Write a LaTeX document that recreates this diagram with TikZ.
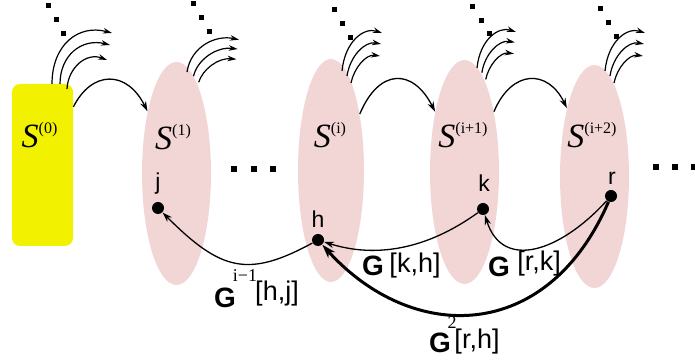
\documentclass[tikz,border=0pt]{standalone}
\usepackage{fontspec}
\setmainfont{Liberation Serif}
\setsansfont{Liberation Sans}
\usetikzlibrary{shapes.geometric,arrows.meta}
\definecolor{setpink}{RGB}{242,213,213}
\definecolor{setyellow}{RGB}{242,242,0}
\newcommand{\Slab}[1]{{\fontsize{17}{17}\selectfont\itshape S}{\fontsize{8}{8}\selectfont\raisebox{7.3pt}{(#1)}}}
\begin{document}
\begin{tikzpicture}[x=0.5pt,y=-0.5pt,
  setell/.style={ellipse, fill=setpink, inner sep=0pt},
  ybox/.style={rectangle, fill=setyellow, rounded corners=4pt, inner sep=0pt, minimum width=30.5pt, minimum height=81pt},
  vert/.style={circle, fill=black, inner sep=0pt, minimum size=6pt},
  vlab/.style={font=\sffamily\fontsize{11.5}{12}\selectfont, inner sep=0pt, anchor=base},
  slab/.style={inner sep=0pt, anchor=base},
  conn/.style={line width=0.65pt, -{Stealth[length=5pt,width=3.2pt]}},
  bigconn/.style={line width=1.5pt, -{Stealth[length=7pt,width=4.5pt]}},
  fanarr/.style={line width=0.6pt, -{Stealth[length=4.5pt,width=2.8pt]}},
  blab/.style={font=\sffamily\bfseries\fontsize{14}{14}\selectfont, inner sep=0pt},
  idx/.style={font=\sffamily\fontsize{13.5}{14}\selectfont, inner sep=0pt},
  supx/.style={font=\fontsize{9}{9}\selectfont, inner sep=0pt}]
\useasboundingbox (0,0) rectangle (695,362);
% sets
\node[ybox] (s0) at (42.5,165) {};
\node[setell, minimum width=34.5pt, minimum height=111.5pt] (e1) at (176.5,173.5) {};
\node[setell, minimum width=33pt, minimum height=111.5pt] (e2) at (331,170.5) {};
\node[setell, minimum width=34.5pt, minimum height=112pt] (e3) at (464.5,172) {};
\node[setell, minimum width=34.5pt, minimum height=111.5pt] (e4) at (594.5,176.5) {};
% set labels
\node[slab] (t0) at (39.5,148) {\Slab{0}};
\node[slab] (t1) at (173,150) {\Slab{1}};
\node[slab] (t2) at (330,148) {\Slab{i}};
\node[slab] (t3) at (463,148) {\Slab{i+1}};
\node[slab] (t4) at (592,148) {\Slab{i+2}};
% vertices
\node[vert] (j) at (158,208) {};
\node[vert] (h) at (318,240) {};
\node[vert] (k) at (483,209) {};
\node[vert] (r) at (611,196) {};
\node[vlab] (jl) at (158,190) {j};
\node[vlab] (hl) at (318,228) {h};
\node[vlab] (kl) at (484,192) {k};
\node[vlab] (rl) at (612,185) {r};
% arcs between sets
\draw[conn] (s0.62) .. controls (92,70) and (127,70) .. (e1.115);
\draw[conn] (e2.63) .. controls (379,68) and (413,68) .. (e3.116);
\draw[conn] (e3.64) .. controls (512,69) and (548,69) .. (e4.112);
% fans
\draw[fanarr] (52,84) .. controls (52,45) and (78,24) .. (112,33);
\draw[fanarr] (60,84) .. controls (60,55) and (82,38) .. (110,45);
\draw[fanarr] (67,89) .. controls (68,68) and (86,52) .. (107,60);
\foreach \sx/\sy/\xs/\ys in {187/72/1.3/0.85, 342/71/1/1, 477/68/0.97/0.95, 605/71/1/1}{
  \begin{scope}[shift={(\sx,\sy)}, xscale=\xs, yscale=\ys]
    \draw[fanarr] (0,0) .. controls (3,-30) and (22,-44) .. (40,-38);
    \draw[fanarr] (5,5) .. controls (8,-15) and (23,-30) .. (39,-27);
    \draw[fanarr] (9,12) .. controls (12,-3) and (24,-17) .. (38,-15);
  \end{scope}
}
% dots
\foreach \dx/\dy in {48/6,56/20,63/34,193/4,201/18,209/32,334/10,342/24,350/38,472/7,481/21,489/34,600/9,608/23,616/37}{
  \fill (\dx,\dy) ++(-2.5,-2.5) rectangle ++(5,5);
}
\foreach \dx/\dy in {234/169,254/169,273/169,656/167,675/167,694/167}{
  \fill (\dx,\dy) ++(-2.8,-2.8) rectangle ++(5.6,5.6);
}
% bottom connectors
\draw[conn] (h) .. controls (248,278) and (221,271) .. (j);
\draw[conn] (k) .. controls (426,250) and (375,258) .. (h);
\draw[conn] (r) .. controls (560,252) and (502.5,271) .. (k);
\draw[bigconn] (r) .. controls (547,344) and (412,344) .. (h);
% edge labels
\node[blab] (g1) at (225,297.5) {G};
\node[supx] (g1s) at (245,276) {i−1};
\node[idx] (g1i) at (277,294) {[h,j]};
\node[blab] (g2) at (373,265.5) {G};
\node[idx] (g2i) at (415,265.5) {[k,h]};
\node[blab] (g3) at (499,267) {G};
\node[idx] (g3i) at (539,264) {[r,k]};
\node[blab] (g4) at (440,343) {G};
\node[supx] (g4s) at (452,323) {2};
\node[idx] (g4i) at (477,342) {[r,h]};
\end{tikzpicture}
\end{document}
